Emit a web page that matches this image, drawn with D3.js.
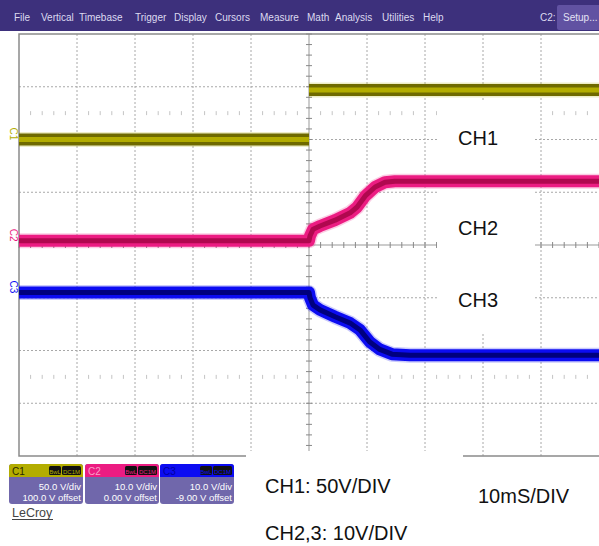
<!DOCTYPE html>
<html><head><meta charset="utf-8">
<script src="https://cdn.jsdelivr.net/npm/d3@7"></script>
<style>body{margin:0;background:#fff}svg{display:block;font-family:"Liberation Sans",Arial,sans-serif}</style>
</head><body><svg id="c" width="599" height="546"></svg>
<script>
// ---- data ----
const menuItems = ["File","Vertical","Timebase","Trigger","Display","Cursors","Measure","Math","Analysis","Utilities","Help"];
const menuX = [14,41,79,135,174,215,260,307,335,382,423];
const channels = ["C1","C2","C3"];
const channelNames = ["CH1","CH2","CH3"];
const voltsPerDiv = [50, 10, 10];
const offsetsV = [100, 0, -9];
const vdivLabels = ["50.0 V/div","10.0 V/div","10.0 V/div"];
const offsetLabels = ["100.0 V offset","0.00 V offset","-9.00 V offset"];
const timePerDivMs = 10;
const ch1TimeMs = [-50, 0, 0, 50];
const ch1Volts  = [0, 0, 47, 47];
const ch1Seg    = [0, 0, 1, 1];
const ch2TimeMs = [-50, 0, 0.17, 0.7, 1.9, 4.5, 7.1, 8.3, 9.7, 11.4, 13.1, 14.8, 50];
const ch2Volts  = [0.8, 0.8, 1.7, 3.0, 3.6, 4.7, 6.1, 7.2, 9.3, 11.0, 11.9, 12.1, 12.1];
const ch3TimeMs = [-50, 0, 0.17, 0.7, 1.9, 4.5, 7.1, 8.8, 10.5, 12.2, 14.3, 17.4, 50];
const ch3Volts  = [0, 0, -1.0, -2.4, -3.3, -4.6, -5.8, -7.1, -9.4, -10.8, -11.7, -11.9, -11.9];

// ---- layout ----
const svg = d3.select("#c");
const L = 19, R = 599, T = 34, B = 456;
const x = d3.scaleLinear().domain([-5*timePerDivMs, 5*timePerDivMs]).range([L, R]);
const y = d3.scaleLinear().domain([-4, 4]).range([B, T]);
const colors = ["#b3ad00", "#ec1c82", "#0c0cf2"];
const darks  = ["#6f6a00", "#b0084f", "#00007e"];

// menu bar
svg.append("rect").attr("x",0).attr("y",0).attr("width",599).attr("height",31).attr("fill","#3d307c");
svg.selectAll("text.menu").data(menuItems).join("text").attr("class","menu")
  .attr("x",(d,i)=>menuX[i]).attr("y",21).attr("font-size",10).attr("fill","#dcdaf0").text(d=>d);
svg.append("text").attr("x",540).attr("y",21).attr("font-size",10).attr("fill","#dcdaf0").text("C2:");
svg.append("rect").attr("x",557).attr("y",5).attr("width",44).attr("height",25).attr("rx",2).attr("fill","#6152a2");
svg.append("text").attr("x",563).attr("y",21).attr("font-size",10).attr("fill","#e4e2f4").text("Setup...");

// grid
const g = svg.append("g");
const vt = d3.range(-4,5).filter(d=>d!==0).map(d=>d*timePerDivMs);
g.selectAll("line.vg").data(vt).join("line").attr("x1",d=>x(d)).attr("x2",d=>x(d)).attr("y1",T).attr("y2",B)
  .attr("stroke","#a8a8a8").attr("stroke-dasharray","2,2");
const ht = [-3,-2,-1,1,2,3];
g.selectAll("line.hg").data(ht).join("line").attr("x1",L).attr("x2",R).attr("y1",d=>y(d)).attr("y2",d=>y(d))
  .attr("stroke","#a8a8a8").attr("stroke-dasharray","2,2");
// dotted rows
const minorX = d3.range(-50,50.01,2).filter(d=>Math.abs(d%10)>0.01);
[2.5,-2.5].forEach(r=>{
  g.selectAll(null).data(minorX).join("line").attr("x1",d=>x(d)).attr("x2",d=>x(d))
   .attr("y1",y(r)-2).attr("y2",y(r)+2).attr("stroke","#c4c4c4");
});
// center axes
g.append("line").attr("x1",x(0)).attr("x2",x(0)).attr("y1",T).attr("y2",B).attr("stroke","#999");
g.append("line").attr("x1",L).attr("x2",R).attr("y1",y(0)).attr("y2",y(0)).attr("stroke","#999");
g.selectAll(null).data(d3.range(-4,4.01,0.2)).join("line").attr("x1",x(0)-3).attr("x2",x(0)+3)
  .attr("y1",d=>y(d)).attr("y2",d=>y(d)).attr("stroke","#888");
g.selectAll(null).data(d3.range(-50,50.01,2)).join("line").attr("y1",y(0)-3).attr("y2",y(0)+3)
  .attr("x1",d=>x(d)).attr("x2",d=>x(d)).attr("stroke","#888");
// border
g.append("path").attr("d",`M${R},${T}H${L}V${B}H${R}`).attr("fill","none").attr("stroke","#8a8a8a").attr("stroke-width",1.5);

// white annotation areas
svg.append("rect").attr("x",437).attr("y",101).attr("width",98).attr("height",231).attr("fill","#fff");
svg.append("rect").attr("x",246).attr("y",451).attr("width",217).attr("height",95).attr("fill","#fff");

// traces
function toDiv(v, i){ return (v + offsetsV[i]) / voltsPerDiv[i]; }
const tr = svg.append("g").attr("fill","none").attr("stroke-linejoin","round");
function drawTrace(times, volts, ci, segs){
  const pts = times.map((t,k)=>({t, v:volts[k], s: segs ? segs[k] : 0}));
  const groups = d3.groups(pts, d=>d.s).map(d=>d[1]);
  const line = d3.line().x(d=>x(d.t)).y(d=>y(toDiv(d.v,ci)));
  groups.forEach(gp=>{
    tr.append("path").attr("d",line(gp)).attr("stroke",colors[ci]).attr("stroke-width",15).attr("opacity",0.22);
    tr.append("path").attr("d",line(gp)).attr("stroke",ci===0?darks[0]:colors[ci]).attr("stroke-width",12);
    tr.append("path").attr("d",line(gp)).attr("stroke",ci===0?colors[0]:darks[ci]).attr("stroke-width",5);
  });
}
drawTrace(ch1TimeMs, ch1Volts, 0, ch1Seg);
drawTrace(ch2TimeMs, ch2Volts, 1);
drawTrace(ch3TimeMs, ch3Volts, 2);

// left channel markers
[ch1Volts[0], ch2Volts[0], ch3Volts[0]].forEach((v,i)=>{
  const yy = y(toDiv(v,i));
  svg.append("text").attr("transform",`translate(10,${yy-12}) rotate(90)`).attr("font-size",10)
    .attr("fill",colors[i]).text(channels[i]);
});

// labels
const labelY = [145, 235, 307];
svg.selectAll("text.ch").data(channelNames).join("text").attr("class","ch")
  .attr("x",458).attr("y",(d,i)=>labelY[i]).attr("font-size",20).attr("fill","#111").text(d=>d);
svg.append("text").attr("x",265).attr("y",493).attr("font-size",20).attr("fill","#111").text("CH1: 50V/DIV");
svg.append("text").attr("x",478).attr("y",503).attr("font-size",20).attr("fill","#111").text("10mS/DIV");
svg.append("text").attr("x",265).attr("y",540).attr("font-size",20).attr("fill","#111").text("CH2,3: 10V/DIV");

// info boxes
const boxX = [9, 85, 160];
const boxW = 74;
channels.forEach((c,i)=>{
  const bx = boxX[i];
  const gb = svg.append("g");
  gb.append("rect").attr("x",bx).attr("y",464).attr("width",boxW).attr("height",40).attr("rx",3).attr("fill","#7067ab");
  gb.append("path").attr("d",`M${bx},477V467a3,3 0 0 1 3,-3H${bx+boxW-3}a3,3 0 0 1 3,3V477Z`).attr("fill",colors[i]);
  gb.append("text").attr("x",bx+3).attr("y",475).attr("font-size",10).attr("fill", i===0?"#2a2800":(i===1?"#f8a0c8":"#0000a0")).text(c);
  gb.append("rect").attr("x",bx+40).attr("y",466).attr("width",12).attr("height",9).attr("rx",1.5).attr("fill","#111");
  gb.append("rect").attr("x",bx+53).attr("y",466).attr("width",19).attr("height",9).attr("rx",1.5).attr("fill","#111");
  gb.append("text").attr("x",bx+46).attr("y",473.5).attr("font-size",6).attr("text-anchor","middle").attr("fill",colors[i]).text("BwL");
  gb.append("text").attr("x",bx+62.5).attr("y",473.5).attr("font-size",6).attr("text-anchor","middle").attr("fill",colors[i]).text("DC1M");
  gb.append("text").attr("x",bx+boxW-2).attr("y",490).attr("font-size",9.5).attr("text-anchor","end").attr("fill","#fff").text(vdivLabels[i]);
  gb.append("text").attr("x",bx+boxW-2).attr("y",501).attr("font-size",9.5).attr("text-anchor","end").attr("fill","#fff").text(offsetLabels[i]);
});
svg.append("text").attr("x",12).attr("y",517).attr("font-size",12.5).attr("fill","#444").text("LeCroy");
svg.append("line").attr("x1",12).attr("x2",53).attr("y1",519.5).attr("y2",519.5).attr("stroke","#444");
</script></body></html>
